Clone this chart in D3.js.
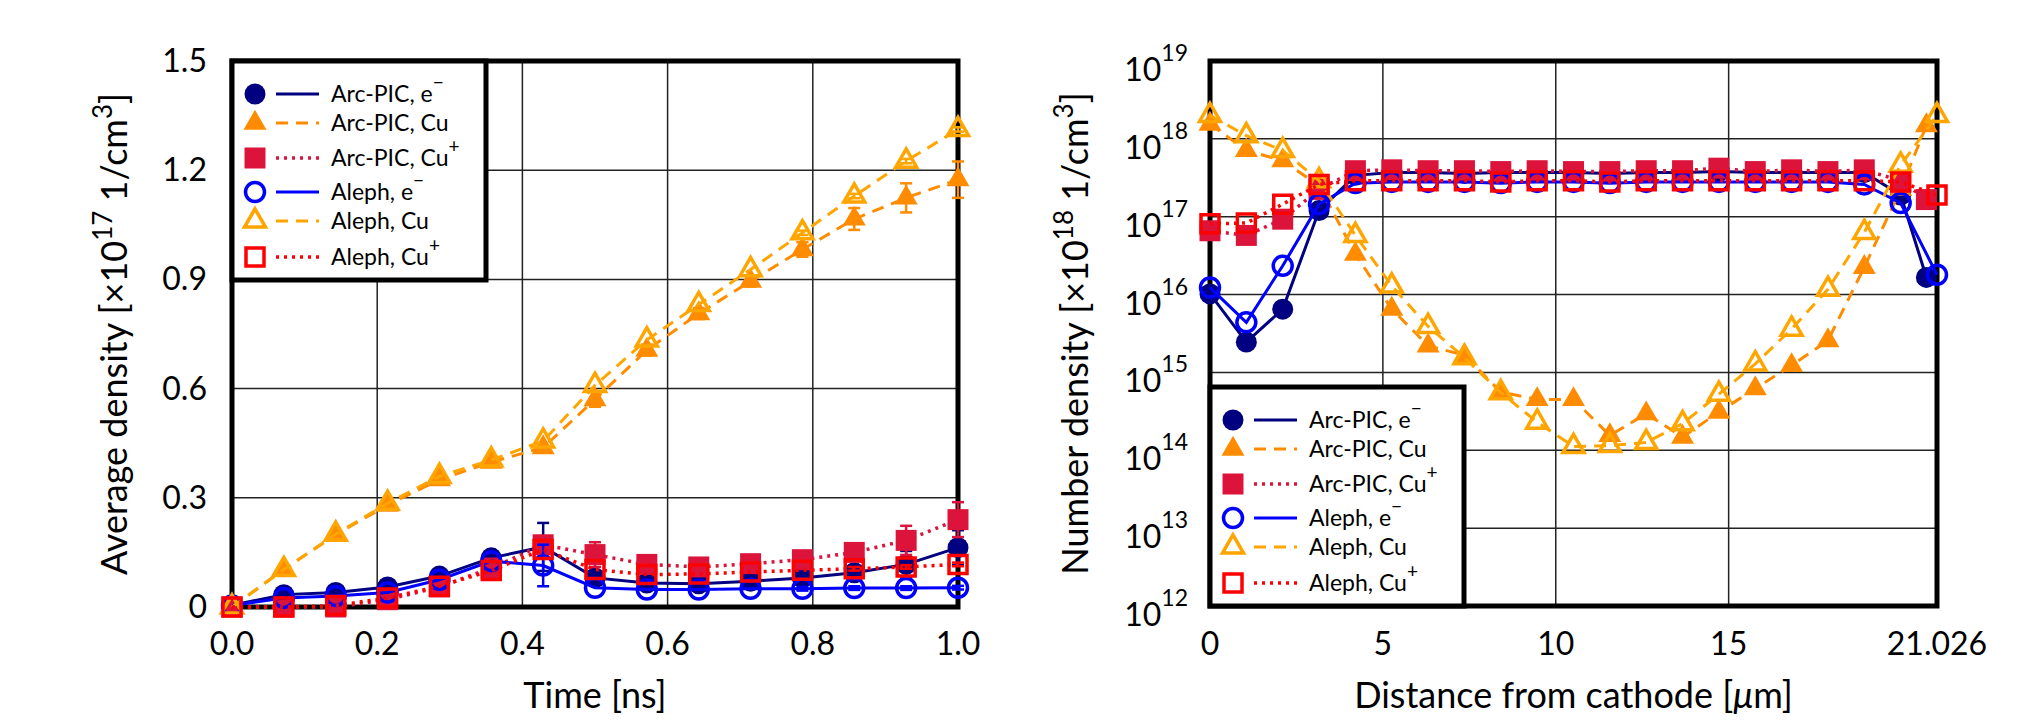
<!DOCTYPE html>
<html>
<meta charset="utf-8">
<style>
  body { margin: 0; background: #fff; }
  svg text { font-family: Lato, "Open Sans", sans-serif; fill: #000; }
</style>
<body>
<svg width="2036" height="722"></svg>
<script src="https://d3js.org/d3.v7.min.js"></script>
<script>
  // ---- left panel: average density vs time ----
  var timeNs = [0, 0.0714, 0.1429, 0.2143, 0.2857, 0.3571, 0.4286, 0.5, 0.5714, 0.6429, 0.7143, 0.7857, 0.8571, 0.9286, 1.0];

  var avgArcE = [0.005, 0.034, 0.040, 0.055, 0.085, 0.135, 0.165, 0.080, 0.066, 0.064, 0.071, 0.080, 0.094, 0.117, 0.163];
  var avgArcEErr = [0, 0, 0, 0, 0, 0, 0.066, 0, 0, 0, 0, 0, 0.02, 0.037, 0.048];
  var avgArcCu = [0.0, 0.103, 0.199, 0.280, 0.350, 0.398, 0.438, 0.570, 0.706, 0.806, 0.895, 0.982, 1.066, 1.124, 1.174];
  var avgArcCuErr = [0, 0, 0, 0, 0, 0, 0, 0.02, 0.015, 0.015, 0.015, 0.02, 0.03, 0.04, 0.05];
  var avgArcCuPlus = [0.0, 0.0, 0.0, 0.020, 0.055, 0.107, 0.171, 0.144, 0.117, 0.110, 0.119, 0.130, 0.150, 0.183, 0.240];
  var avgArcCuPlusErr = [0, 0, 0, 0, 0, 0, 0.02, 0.034, 0.01, 0.01, 0.01, 0.015, 0.02, 0.04, 0.048];
  var avgAlephE = [0.004, 0.025, 0.030, 0.040, 0.075, 0.126, 0.114, 0.053, 0.048, 0.048, 0.050, 0.050, 0.052, 0.052, 0.053];
  var avgAlephEErr = [0, 0, 0, 0, 0, 0, 0.057, 0, 0, 0, 0, 0.005, 0.005, 0.005, 0.005];
  var avgAlephCu = [0.0, 0.103, 0.200, 0.285, 0.359, 0.404, 0.456, 0.609, 0.734, 0.831, 0.927, 1.028, 1.129, 1.225, 1.312];
  var avgAlephCuErr = [0, 0, 0, 0, 0, 0, 0, 0, 0, 0, 0, 0.006, 0.006, 0.006, 0.006];
  var avgAlephCuPlus = [0.0, 0.0, 0.004, 0.025, 0.057, 0.100, 0.158, 0.103, 0.089, 0.091, 0.096, 0.101, 0.105, 0.110, 0.117];
  var avgAlephCuPlusErr = [0, 0, 0, 0, 0, 0, 0, 0, 0, 0, 0, 0, 0.005, 0.005, 0.005];

  var timeTicks = [0, 0.2, 0.4, 0.6, 0.8, 1.0];
  var avgTicks = [0, 0.3, 0.6, 0.9, 1.2, 1.5];

  // ---- right panel: number density vs distance ----
  var distAleph = [0, 1.051, 2.103, 3.154, 4.205, 5.257, 6.308, 7.359, 8.410, 9.462, 10.513, 11.564, 12.616, 13.667, 14.718, 15.770, 16.821, 17.872, 18.923, 19.975, 21.026];
  var distArc = [0, 1.051, 2.103, 3.154, 4.205, 5.257, 6.308, 7.359, 8.410, 9.462, 10.513, 11.564, 12.616, 13.667, 14.718, 15.770, 16.821, 17.872, 18.923, 19.975, 20.72];

  var numArcE = [1.02e16, 2.45e15, 6.5e15, 1.2e17, 3.4e17, 3.7e17, 3.7e17, 3.6e17, 3.7e17, 3.7e17, 3.7e17, 3.6e17, 3.7e17, 3.7e17, 3.8e17, 3.7e17, 3.7e17, 3.7e17, 3.7e17, 1.9e17, 1.66e16];
  var numArcCu = [1.55e18, 7.1e17, 5.25e17, 2.5e17, 3.3e16, 6.5e15, 2.2e15, 1.66e15, 5.6e14, 4.5e14, 4.5e14, 1.55e14, 2.95e14, 1.48e14, 3.1e14, 6.2e14, 1.23e15, 2.57e15, 2.24e16, 2.24e17, 1.48e18];
  var numArcCuPlus = [6.6e16, 5.75e16, 9.3e16, 2.24e17, 3.9e17, 4.0e17, 3.9e17, 3.9e17, 3.8e17, 3.9e17, 3.8e17, 3.8e17, 3.9e17, 3.9e17, 4.2e17, 3.8e17, 4.0e17, 3.8e17, 4.0e17, 2.9e17, 1.66e17];
  var numAlephE = [1.23e16, 4.4e15, 2.34e16, 1.45e17, 2.7e17, 2.8e17, 2.8e17, 2.8e17, 2.7e17, 2.8e17, 2.8e17, 2.7e17, 2.8e17, 2.8e17, 2.8e17, 2.8e17, 2.8e17, 2.8e17, 2.6e17, 1.5e17, 1.8e16];
  var numAlephCu = [2.0e18, 1.1e18, 7.1e17, 2.9e17, 5.75e16, 1.29e16, 3.9e15, 1.55e15, 5.5e14, 2.3e14, 1.12e14, 1.15e14, 1.26e14, 2.2e14, 5.25e14, 1.29e15, 3.6e15, 1.17e16, 6.3e16, 4.6e17, 2.0e18];
  var numAlephCuPlus = [8.1e16, 8.3e16, 1.45e17, 2.6e17, 2.9e17, 2.9e17, 2.9e17, 2.9e17, 2.8e17, 2.9e17, 2.9e17, 2.8e17, 2.9e17, 2.9e17, 2.9e17, 2.9e17, 2.9e17, 2.9e17, 2.9e17, 2.8e17, 1.9e17];

  var distTicks = [0, 5, 10, 15, 21.026];
  var distTickLabels = ["0", "5", "10", "15", "21.026"];
  var distGrid = [5, 10, 15];
  var numTicks = [1e12, 1e13, 1e14, 1e15, 1e16, 1e17, 1e18, 1e19];

  // series look, same order in both panels
  var styles = [
    { label: "Arc-PIC, e", sup: "\u2212", color: "#000080", shape: "circle", filled: true, dash: null },
    { label: "Arc-PIC, Cu", sup: "", color: "#ff8c00", shape: "triangle", filled: true, dash: "12,8" },
    { label: "Arc-PIC, Cu", sup: "+", color: "#dc143c", shape: "square", filled: true, dash: "3,5" },
    { label: "Aleph, e", sup: "\u2212", color: "#0000ff", shape: "circle", filled: false, dash: null },
    { label: "Aleph, Cu", sup: "", color: "#ffa500", shape: "triangle", filled: false, dash: "12,8" },
    { label: "Aleph, Cu", sup: "+", color: "#ff0000", shape: "square", filled: false, dash: "3,5" }
  ];

  var svg = d3.select("svg");

  function markerPath(st) {
    var area;
    if (st.shape === "circle") { area = st.filled ? 346 : 283; return d3.symbol(d3.symbolCircle, area)(); }
    if (st.shape === "square") { area = st.filled ? 441 : 324; return d3.symbol(d3.symbolSquare, area)(); }
    area = st.filled ? 229 : 191;
    return d3.symbol(d3.symbolTriangle, area)();
  }

  // text with superscript pieces: parts = [[str, isSup, italic], ...]
  function richText(t, parts, supSize, rise) {
    var up = 0;
    parts.forEach(function (p) {
      var s = t.append("tspan").text(p[0]);
      if (p[2]) s.attr("font-style", "italic");
      if (p[1]) { s.attr("font-size", supSize).attr("dy", -rise); up = rise; }
      else if (up) { s.attr("dy", up); up = 0; }
    });
  }

  function drawPanel(cfg) {
    var x = cfg.x, y = cfg.y;
    var x0 = x.range()[0], x1 = x.range()[1], yb = y.range()[0], yt = y.range()[1];
    var g = svg.append("g");

    // grid
    g.selectAll(".gx").data(cfg.gridX).enter().append("line")
      .attr("x1", function (d) { return x(d); }).attr("x2", function (d) { return x(d); })
      .attr("y1", yb).attr("y2", yt)
      .attr("stroke", "#222").attr("stroke-width", 1.5);
    g.selectAll(".gy").data(cfg.gridY).enter().append("line")
      .attr("y1", function (d) { return y(d); }).attr("y2", function (d) { return y(d); })
      .attr("x1", x0).attr("x2", x1)
      .attr("stroke", "#222").attr("stroke-width", 1.5);

    // frame
    g.append("rect").attr("x", x0).attr("y", yt).attr("width", x1 - x0).attr("height", yb - yt)
      .attr("fill", "none").attr("stroke", "#000").attr("stroke-width", 5);

    // x tick labels
    g.selectAll(".tx").data(cfg.ticksX).enter().append("text")
      .attr("x", function (d) { return x(d); }).attr("y", 655)
      .attr("text-anchor", "middle").attr("font-size", 32)
      .text(function (d, i) { return cfg.labelX(d, i); });

    // y tick labels
    cfg.ticksY.forEach(function (d, i) {
      var t = g.append("text").attr("x", cfg.tickYRight).attr("text-anchor", "end").attr("font-size", 32);
      if (cfg.log) {
        t.attr("y", y(d) + 20);
        richText(t, [["10", false], [String(Math.round(Math.log10(d))), true]], 23, 20);
      } else {
        t.attr("y", y(d) + 11).text(cfg.labelY(d, i));
      }
    });

    // axis titles
    g.append("text").attr("x", (x0 + x1) / 2).attr("y", 708).attr("text-anchor", "middle")
      .attr("font-size", 36).call(function (t) { richText(t, cfg.titleX, 26, 14); });
    g.append("text").attr("transform", "translate(" + cfg.titleYx + "," + (yt + yb) / 2 + ") rotate(-90)")
      .attr("text-anchor", "middle").attr("font-size", 36)
      .call(function (t) { richText(t, cfg.titleY, 26, 15); });

    // series: line, error bars, markers
    cfg.series.forEach(function (s) {
      var st = s.st;
      var pts = s.xs.map(function (v, i) { return [v, s.ys[i], s.err ? s.err[i] : 0]; });
      var line = d3.line().x(function (d) { return x(d[0]); }).y(function (d) { return y(d[1]); });
      g.append("path").datum(pts).attr("d", line)
        .attr("fill", "none").attr("stroke", st.color).attr("stroke-width", st.dash === "3,5" ? 3.5 : 3)
        .attr("stroke-dasharray", st.dash);

      var eb = g.selectAll(null).data(pts.filter(function (d) { return d[2] > 0; })).enter().append("g")
        .attr("stroke", st.color).attr("stroke-width", 2.5);
      eb.append("line").attr("x1", function (d) { return x(d[0]); }).attr("x2", function (d) { return x(d[0]); })
        .attr("y1", function (d) { return y(d[1] - d[2]); }).attr("y2", function (d) { return y(d[1] + d[2]); });
      [-1, 1].forEach(function (sgn) {
        eb.append("line").attr("x1", function (d) { return x(d[0]) - 6; }).attr("x2", function (d) { return x(d[0]) + 6; })
          .attr("y1", function (d) { return y(d[1] + sgn * d[2]); }).attr("y2", function (d) { return y(d[1] + sgn * d[2]); });
      });

      g.selectAll(null).data(pts).enter().append("path")
        .attr("d", markerPath(st))
        .attr("transform", function (d) { return "translate(" + x(d[0]) + "," + y(d[1]) + ")"; })
        .attr("fill", st.filled ? st.color : "none")
        .attr("stroke", st.filled ? "none" : st.color)
        .attr("stroke-width", 3.5);
    });

    // legend
    var lx = cfg.legend[0], ly = cfg.legend[1];
    var lg = g.append("g");
    lg.append("rect").attr("x", lx).attr("y", ly).attr("width", 254).attr("height", 219)
      .attr("fill", "#fff").attr("stroke", "#000").attr("stroke-width", 5);
    var rows = [33, 62, 97, 131, 160, 196];
    styles.forEach(function (st, i) {
      var ry = ly + rows[i];
      lg.append("path").attr("d", markerPath(st))
        .attr("transform", "translate(" + (lx + 23) + "," + ry + ")")
        .attr("fill", st.filled ? st.color : "none")
        .attr("stroke", st.filled ? "none" : st.color).attr("stroke-width", 3.5);
      lg.append("line").attr("x1", lx + 44).attr("x2", lx + 87).attr("y1", ry).attr("y2", ry)
        .attr("stroke", st.color).attr("stroke-width", st.dash === "3,5" ? 3.5 : 3)
        .attr("stroke-dasharray", st.dash);
      var t = lg.append("text").attr("x", lx + 99).attr("y", ry + 8).attr("font-size", 23);
      richText(t, [[st.label, false], [st.sup, true]], 19, 13);
    });
  }

  drawPanel({
    x: d3.scaleLinear().domain([0, 1]).range([232, 958]),
    y: d3.scaleLinear().domain([0, 1.5]).range([607, 61]),
    gridX: [0.2, 0.4, 0.6, 0.8], gridY: [0.3, 0.6, 0.9, 1.2],
    ticksX: timeTicks, ticksY: avgTicks,
    labelX: function (d) { return d3.format(".1f")(d); },
    labelY: function (d) { return d === 0 ? "0" : d3.format(".1f")(d); },
    tickYRight: 207, log: false,
    titleX: [["Time [ns]", false]],
    titleY: [["Average density [\u00d710", false], ["17", true], [" 1/cm", false], ["3", true], ["]", false]],
    titleYx: 127,
    legend: [232, 61],
    series: [
      { xs: timeNs, ys: avgArcE, err: avgArcEErr, st: styles[0] },
      { xs: timeNs, ys: avgArcCu, err: avgArcCuErr, st: styles[1] },
      { xs: timeNs, ys: avgArcCuPlus, err: avgArcCuPlusErr, st: styles[2] },
      { xs: timeNs, ys: avgAlephE, err: avgAlephEErr, st: styles[3] },
      { xs: timeNs, ys: avgAlephCu, err: avgAlephCuErr, st: styles[4] },
      { xs: timeNs, ys: avgAlephCuPlus, err: avgAlephCuPlusErr, st: styles[5] }
    ]
  });

  drawPanel({
    x: d3.scaleLinear().domain([0, 21.026]).range([1210, 1937]),
    y: d3.scaleLog().domain([1e12, 1e19]).range([606, 61]),
    gridX: distGrid, gridY: numTicks.slice(1, -1),
    ticksX: distTicks, ticksY: numTicks,
    labelX: function (d, i) { return distTickLabels[i]; },
    tickYRight: 1188, log: true,
    titleX: [["Distance from cathode [", false], ["\u03bc", false, true], ["m]", false]],
    titleY: [["Number density [\u00d710", false], ["18", true], [" 1/cm", false], ["3", true], ["]", false]],
    titleYx: 1088,
    legend: [1210, 387],
    series: [
      { xs: distArc, ys: numArcE, st: styles[0] },
      { xs: distArc, ys: numArcCu, st: styles[1] },
      { xs: distArc, ys: numArcCuPlus, st: styles[2] },
      { xs: distAleph, ys: numAlephE, st: styles[3] },
      { xs: distAleph, ys: numAlephCu, st: styles[4] },
      { xs: distAleph, ys: numAlephCuPlus, st: styles[5] }
    ]
  });
</script>
</body>
</html>
